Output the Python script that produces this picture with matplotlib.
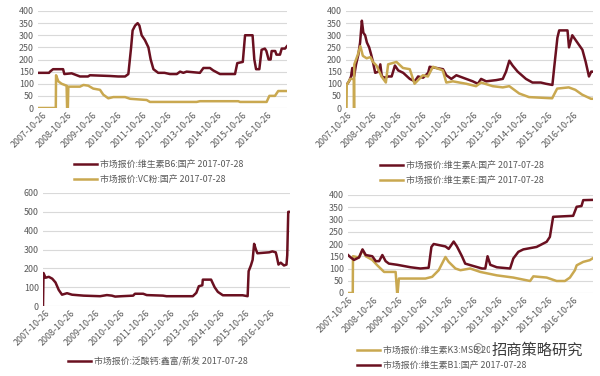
import matplotlib
matplotlib.use("Agg")
import matplotlib.pyplot as plt
import matplotlib.dates as mdates
from datetime import datetime, timedelta

plt.rcParams['font.family'] = ['Noto Sans CJK SC', 'DejaVu Sans']

# ---------------- data (decimal year, price) ----------------
b6_t = [2007.66, 2008.10, 2008.14, 2008.26, 2008.66, 2008.71, 2009.00, 2009.33, 2009.65, 2009.73,
        2010.53, 2010.85, 2011.13, 2011.26, 2011.37, 2011.43, 2011.53, 2011.63, 2011.70, 2011.79,
        2011.92, 2012.06, 2012.15, 2012.26, 2012.45, 2012.70, 2012.92, 2013.19, 2013.32, 2013.45,
        2013.58, 2014.11, 2014.25, 2014.51, 2014.64, 2014.91, 2015.51, 2015.60, 2015.82, 2015.91,
        2016.21, 2016.28, 2016.35, 2016.48, 2016.57, 2016.70, 2016.76, 2016.85, 2016.93, 2016.97,
        2017.11, 2017.16, 2017.30, 2017.37, 2017.50, 2017.58]
b6_v = [145, 145, 150, 160, 160, 140, 143, 130, 130, 135,
        132, 130, 130, 140, 250, 320, 340, 350, 340, 300,
        280, 250, 200, 160, 145, 145, 140, 140, 150, 145,
        150, 145, 165, 165, 155, 140, 140, 185, 190, 300,
        300, 200, 160, 160, 240, 245, 235, 200, 200, 235,
        235, 220, 220, 245, 245, 255]

vc_t = [2007.66, 2008.37, 2008.38, 2008.47, 2008.60, 2008.80, 2008.82, 2008.85, 2008.87, 2009.33,
        2009.47, 2009.66, 2009.86, 2010.13, 2010.26, 2010.46, 2010.66, 2011.13, 2011.33, 2011.99,
        2012.12, 2013.98, 2014.11, 2015.64, 2015.71, 2016.77, 2016.88, 2017.10, 2017.23, 2017.58]
vc_v = [0, 0, 135, 110, 100, 92, 0, 0, 88, 88,
        95, 92, 80, 75, 55, 40, 45, 45, 38, 33,
        25, 25, 28, 28, 25, 25, 50, 50, 70, 70]

va_t = [2007.80, 2007.90, 2007.98, 2008.03, 2008.10, 2008.18, 2008.27, 2008.34, 2008.41, 2008.47,
        2008.54, 2008.61, 2008.70, 2008.78, 2008.85, 2008.94, 2009.07, 2009.14, 2009.20, 2009.33,
        2009.46, 2009.59, 2009.72, 2009.85, 2010.05, 2010.31, 2010.51, 2010.64, 2010.84, 2011.04,
        2011.10, 2011.37, 2011.63, 2011.76, 2011.96, 2012.16, 2012.29, 2012.55, 2012.81, 2013.01,
        2013.14, 2013.34, 2013.74, 2014.00, 2014.13, 2014.26, 2014.39, 2014.59, 2014.92, 2015.18,
        2015.51, 2015.71, 2015.97, 2016.04, 2016.17, 2016.24, 2016.57, 2016.63, 2016.76, 2016.96,
        2017.16, 2017.29, 2017.42, 2017.51, 2017.56]
va_v = [95, 110, 130, 165, 130, 180, 220, 270, 360, 310,
        300, 270, 250, 220, 190, 145, 150, 180, 130, 125,
        130, 130, 175, 155, 145, 120, 110, 130, 125, 145,
        170, 165, 160, 135, 120, 135, 130, 120, 110, 100,
        120, 110, 115, 120, 150, 195, 175, 150, 120, 105,
        105, 100, 95, 165, 290, 320, 320, 250, 300, 270,
        240, 190, 130, 150, 150]

ve_t = [2007.80, 2007.81, 2007.95, 2008.09, 2008.10, 2008.11, 2008.25, 2008.35, 2008.45, 2008.60,
        2008.75, 2008.85, 2008.99, 2009.19, 2009.36, 2009.45, 2009.78, 2010.04, 2010.31, 2010.50,
        2010.83, 2011.03, 2011.23, 2011.62, 2011.76, 2012.02, 2012.28, 2012.55, 2012.94, 2013.14,
        2013.60, 2014.00, 2014.26, 2014.65, 2015.04, 2015.96, 2016.16, 2016.62, 2016.88, 2017.15,
        2017.50, 2017.56]
ve_v = [0, 95, 120, 120, 0, 180, 220, 255, 215, 205,
        210, 190, 175, 130, 105, 180, 190, 165, 160, 100,
        135, 130, 170, 155, 105, 110, 105, 100, 90, 105,
        90, 85, 90, 60, 45, 40, 80, 85, 75, 55,
        38, 38]

ca_t = [2007.72, 2007.74, 2007.82, 2007.95, 2008.09, 2008.22, 2008.35, 2008.48, 2008.68, 2008.88,
        2009.34, 2010.00, 2010.27, 2010.47, 2010.60, 2010.86, 2011.32, 2011.39, 2011.72, 2011.86,
        2012.51, 2012.65, 2013.70, 2013.84, 2013.94, 2014.08, 2014.10, 2014.43, 2014.57, 2014.70,
        2014.90, 2015.69, 2015.89, 2015.93, 2016.02, 2016.09, 2016.15, 2016.22, 2016.28, 2016.75,
        2016.88, 2017.01, 2017.04, 2017.12, 2017.21, 2017.34, 2017.44, 2017.47, 2017.51, 2017.56]
ca_v = [0, 175, 150, 155, 145, 125, 85, 60, 68, 60,
        55, 52, 58, 55, 50, 52, 55, 65, 65, 58,
        55, 52, 52, 70, 105, 110, 140, 140, 100, 75,
        57, 57, 52, 185, 215, 245, 330, 300, 280, 285,
        290, 285, 270, 220, 230, 215, 220, 270, 500, 500]

b1_t = [2007.80, 2007.91, 2008.04, 2008.24, 2008.38, 2008.51, 2008.77, 2008.91, 2009.04, 2009.17,
        2009.30, 2009.43, 2009.77, 2010.30, 2010.69, 2011.02, 2011.13, 2011.22, 2011.69, 2011.82,
        2012.02, 2012.15, 2012.35, 2012.48, 2012.81, 2013.15, 2013.28, 2013.37, 2013.48, 2013.74,
        2014.27, 2014.40, 2014.60, 2014.80, 2015.33, 2015.73, 2015.86, 2015.99, 2016.79, 2016.93,
        2017.12, 2017.19, 2017.56]
b1_v = [155, 145, 135, 145, 178, 155, 150, 130, 130, 155,
        130, 120, 115, 105, 100, 103, 188, 200, 190, 180,
        210, 190, 150, 120, 110, 100, 100, 150, 115, 105,
        100, 141, 168, 178, 188, 209, 229, 311, 315, 352,
        355, 379, 380]

k3_t = [2007.80, 2007.99, 2008.00, 2008.24, 2008.38, 2008.51, 2008.77, 2008.97, 2009.24, 2009.70,
        2009.76, 2009.78, 2009.83, 2010.89, 2011.16, 2011.42, 2011.69, 2011.82, 2012.09, 2012.29,
        2012.68, 2013.08, 2013.74, 2014.40, 2015.07, 2015.20, 2015.73, 2016.13, 2016.46, 2016.66,
        2016.86, 2016.93, 2017.19, 2017.45, 2017.56]
k3_v = [0, 0, 150, 145, 175, 150, 135, 113, 86, 86,
        0, 0, 59, 59, 66, 93, 147, 127, 100, 93,
        100, 86, 72, 63, 49, 68, 63, 49, 49, 63,
        93, 113, 127, 134, 141]

tick_years = list(range(2007, 2017))
tick_labels = [f"{y}-10-26" for y in tick_years]

lab_b6 = "市场报价:维生素B6:国产 2017-07-28"
lab_vc = "市场报价:VC粉:国产 2017-07-28"
lab_a = "市场报价:维生素A:国产 2017-07-28"
lab_e = "市场报价:维生素E:国产 2017-07-28"
lab_ca = "市场报价:泛酸钙:鑫富/新发 2017-07-28"
lab_k3 = "市场报价:维生素K3:MSB 2017-07-28"
lab_b1 = "市场报价:维生素B1:国产 2017-07-28"


def to_date(y):
    yr = int(y)
    return datetime(yr, 1, 1) + timedelta(days=(y - yr) * 365.25)


def dates(ts):
    return [to_date(t) for t in ts]


MAROON = '#6a1020'
GOLD = '#c9a850'
GRID = '#d9d9d9'
TXT = '#595959'
FS = 6.4

fig = plt.figure(figsize=(6.0, 3.76), dpi=100)
W, H = 600.0, 376.0


def make_ax(l, r, t, b, ymax, ystep, xstart):
    ax = fig.add_axes([l / W, 1 - b / H, (r - l) / W, (b - t) / H])
    ax.set_ylim(0, ymax)
    ax.set_yticks(range(0, ymax + 1, ystep))
    ax.set_xlim(to_date(xstart), to_date(2017.58))
    ax.set_xticks([datetime(y, 10, 26) for y in tick_years])
    ax.set_xticklabels(tick_labels, rotation=45, ha='right', rotation_mode='anchor')
    ax.grid(axis='y', color=GRID, linewidth=0.8)
    ax.set_axisbelow(True)
    for s in ax.spines.values():
        s.set_visible(False)
    ax.tick_params(length=0, labelsize=FS, colors=TXT, pad=3)
    ax.tick_params(axis='x', pad=2)
    return ax


def add_legend(ax, handles, x, y):
    lg = ax.legend(handles=handles, loc='upper left', bbox_to_anchor=(x / W, 1 - y / H),
                   bbox_transform=fig.transFigure, frameon=False, fontsize=FS,
                   handlelength=2.6, handletextpad=0.3, labelspacing=0.7, borderpad=0,
                   borderaxespad=0)
    for t in lg.get_texts():
        t.set_color(TXT)
    return lg

# top-left
ax1 = make_ax(38, 287, 11, 108, 400, 50, 2007.66)
l1, = ax1.plot(dates(b6_t), b6_v, color=MAROON, lw=1.8, label=lab_b6)
l2, = ax1.plot(dates(vc_t), vc_v, color=GOLD, lw=1.8, label=lab_vc)
add_legend(ax1, [l1, l2], 74, 160)

# top-right
ax2 = make_ax(346, 593, 11, 108, 400, 50, 2007.78)
l3, = ax2.plot(dates(va_t), va_v, color=MAROON, lw=1.8, label=lab_a)
l4, = ax2.plot(dates(ve_t), ve_v, color=GOLD, lw=1.8, label=lab_e)
add_legend(ax2, [l3, l4], 380, 161)

# bottom-left
ax3 = make_ax(43, 290, 193, 306, 600, 100, 2007.72)
l5, = ax3.plot(dates(ca_t), ca_v, color=MAROON, lw=1.8, label=lab_ca)
add_legend(ax3, [l5], 68, 357)

# bottom-right
ax4 = make_ax(348, 593, 195, 293, 400, 50, 2007.80)
l7, = ax4.plot(dates(k3_t), k3_v, color=GOLD, lw=1.8, label=lab_k3)
l6, = ax4.plot(dates(b1_t), b1_v, color=MAROON, lw=1.8, label=lab_b1)
add_legend(ax4, [l7, l6], 357, 346)

# watermark
fig.text(537 / W, 1 - 350 / H, "招商策略研究", fontsize=11, color='#3c3c3c',
         ha='center', va='center',
         bbox=dict(facecolor='white', edgecolor='none', pad=0.5))
fig.text(478 / W, 1 - 349 / H, "◎", fontsize=9, color='#777777', ha='center', va='center',
         family=['DejaVu Sans'])

fig.savefig('out.png', dpi=100)
